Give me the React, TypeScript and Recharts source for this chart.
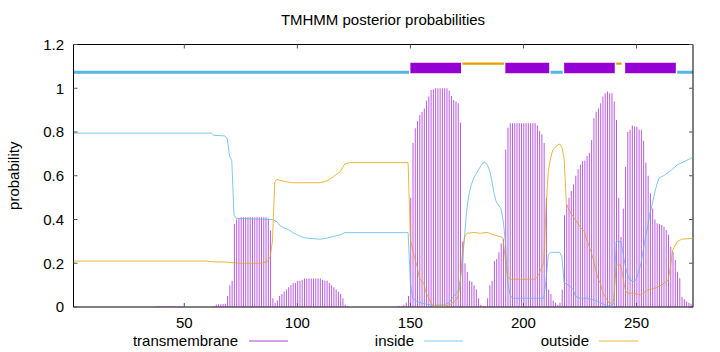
import React from 'react';
import { ComposedChart, Bar, Line, XAxis, YAxis, ReferenceArea } from 'recharts';

// ---------- data ----------
const residueCount = 275;
const residues: number[] = Array.from({ length: residueCount }, (_, i) => i + 1);

// transmembrane posterior probability per residue (1..275)
const tmProb: number[] = [
  0, 0, 0, 0, 0, 0, 0, 0, 0, 0,
  0, 0, 0, 0, 0, 0, 0, 0, 0, 0,
  0, 0, 0, 0, 0, 0, 0, 0, 0, 0,
  0, 0, 0, 0, 0, 0, 0.003, 0.003, 0.003, 0.003,
  0.003, 0.003, 0.003, 0.003, 0.003, 0.003, 0.003, 0.003, 0.003, 0,
  0, 0, 0, 0, 0, 0, 0, 0, 0, 0,
  0, 0, 0.005, 0.012, 0.013, 0.013, 0.014, 0.015, 0.05, 0.10,
  0.12, 0.38, 0.40, 0.405, 0.41, 0.41, 0.41, 0.41, 0.41, 0.41,
  0.41, 0.41, 0.41, 0.41, 0.41, 0.41, 0.405, 0.35, 0.04, 0.02,
  0.03, 0.05, 0.06, 0.07, 0.08, 0.09, 0.10, 0.11, 0.11, 0.12,
  0.12, 0.125, 0.13, 0.13, 0.13, 0.13, 0.13, 0.13, 0.13, 0.13,
  0.125, 0.12, 0.12, 0.11, 0.10, 0.09, 0.08, 0.07, 0.06, 0.04,
  0.01, 0.005, 0, 0, 0, 0, 0, 0, 0, 0,
  0, 0, 0, 0, 0, 0, 0, 0, 0, 0,
  0, 0, 0, 0.003, 0.005, 0.005, 0.01, 0.02, 0.05, 0.5,
  0.75, 0.817, 0.85, 0.878, 0.893, 0.908, 0.943, 0.962, 0.992, 0.995,
  1, 1, 1, 1, 1, 1, 0.989, 0.965, 0.946, 0.939,
  0.931, 0.843, 0.3, 0.2, 0.16, 0.12, 0.115, 0.10, 0.08, 0.04,
  0.01, 0.003, 0.002, 0.04, 0.10, 0.12, 0.21, 0.22, 0.25, 0.29,
  0.31, 0.72, 0.82, 0.84, 0.84, 0.84, 0.84, 0.84, 0.84, 0.84,
  0.84, 0.84, 0.84, 0.84, 0.84, 0.83, 0.806, 0.79, 0.75, 0.5,
  0.08, 0.06, 0.03, 0.02, 0.01, 0.02, 0.08, 0.42, 0.47, 0.5,
  0.53, 0.56, 0.6, 0.63, 0.65, 0.668, 0.67, 0.69, 0.705, 0.764,
  0.863, 0.893, 0.908, 0.931, 0.962, 0.977, 0.985, 0.977, 0.977, 0.939,
  0.855, 0.5, 0.32, 0.45, 0.64, 0.80, 0.81, 0.83, 0.825, 0.825,
  0.81, 0.81, 0.76, 0.66, 0.6, 0.52, 0.45, 0.40, 0.383, 0.38,
  0.375, 0.367, 0.352, 0.33, 0.276, 0.253, 0.215, 0.161, 0.131, 0.047,
  0.035, 0.025, 0.02, 0.015, 0.01,
];

// inside probability, [residue, value]
const insideProb: [number, number][] = [
  [1, 0.795], [62, 0.795], [63, 0.785], [68, 0.782], [69, 0.77], [70, 0.69], [71, 0.67],
  [72, 0.42], [73, 0.405], [88, 0.40], [89, 0.40], [90, 0.395], [91, 0.39], [92, 0.375],
  [94, 0.362], [96, 0.355], [98, 0.34], [100, 0.33], [102, 0.32], [104, 0.315], [110, 0.31],
  [113, 0.315], [116, 0.322], [119, 0.33], [121, 0.34], [149, 0.34], [150, 0.11], [151, 0.04],
  [153, 0.025], [156, 0.015], [160, 0.008], [165, 0.01], [167, 0.02], [169, 0.047], [171, 0.07],
  [172, 0.12], [173, 0.2], [174, 0.33], [175, 0.45], [176, 0.52], [177, 0.56], [178, 0.59],
  [180, 0.625], [182, 0.658], [183, 0.662], [184, 0.65], [185, 0.626], [186, 0.58], [187, 0.52],
  [188, 0.48], [189, 0.465], [190, 0.45], [191, 0.4], [192, 0.3], [193, 0.12], [194, 0.06],
  [195, 0.04], [209, 0.04], [210, 0.12], [211, 0.24], [212, 0.25], [216, 0.25], [217, 0.23],
  [218, 0.11], [220, 0.1], [222, 0.08], [223, 0.05], [225, 0.04], [228, 0.04], [232, 0.03],
  [236, 0.01], [238, 0.005], [240, 0.015], [241, 0.3], [243, 0.3], [244, 0.25], [245, 0.19],
  [246, 0.15], [247, 0.125], [249, 0.115], [250, 0.13], [251, 0.16], [252, 0.2], [253, 0.26],
  [254, 0.32], [255, 0.37], [256, 0.43], [257, 0.47], [258, 0.52], [259, 0.56], [260, 0.59],
  [262, 0.6], [264, 0.615], [266, 0.63], [268, 0.65], [271, 0.664], [274, 0.68], [275, 0.685],
];

// outside probability, [residue, value]
const outsideProb: [number, number][] = [
  [1, 0.21], [60, 0.21], [62, 0.207], [69, 0.205], [72, 0.202], [75, 0.2], [84, 0.2],
  [86, 0.205], [87, 0.212], [88, 0.23], [89, 0.3], [90, 0.57], [91, 0.584], [92, 0.58],
  [95, 0.573], [98, 0.568], [110, 0.568], [113, 0.576], [116, 0.596], [119, 0.619], [121, 0.654],
  [123, 0.66], [149, 0.66], [150, 0.31], [151, 0.26], [153, 0.184], [154, 0.131], [156, 0.108],
  [157, 0.063], [159, 0.024], [160, 0.005], [166, 0.005], [168, 0.014], [170, 0.03], [171, 0.047],
  [172, 0.1], [173, 0.25], [174, 0.32], [175, 0.337], [178, 0.341], [181, 0.337], [184, 0.341],
  [187, 0.329], [190, 0.321], [191, 0.314], [192, 0.215], [193, 0.139], [194, 0.127], [205, 0.127],
  [206, 0.136], [207, 0.154], [208, 0.18], [209, 0.2], [210, 0.45], [211, 0.62], [212, 0.68],
  [213, 0.718], [215, 0.74], [216, 0.745], [217, 0.73], [218, 0.68], [219, 0.47], [221, 0.428],
  [223, 0.398], [225, 0.367], [227, 0.344], [228, 0.306], [229, 0.28], [230, 0.25], [231, 0.215],
  [232, 0.17], [233, 0.13], [234, 0.108], [235, 0.07], [236, 0.05], [237, 0.032], [238, 0.017],
  [239, 0.02], [240, 0.03], [241, 0.192], [243, 0.192], [244, 0.139], [245, 0.078], [246, 0.063],
  [249, 0.063], [252, 0.055], [253, 0.063], [255, 0.078], [258, 0.085], [261, 0.1], [264, 0.123],
  [265, 0.184], [266, 0.26], [268, 0.299], [270, 0.31], [275, 0.314],
];

// predicted topology segments [start, end]
const tmSegments: [number, number][] = [[150, 172], [192, 211], [218, 240], [245, 267]];
const insideSegments: [number, number][] = [[1, 149], [212, 217], [268, 275]];
const outsideSegments: [number, number][] = [[173, 191], [241, 243]];

const xTicks = [50, 100, 150, 200, 250];
const yTicks = [0, 0.2, 0.4, 0.6, 0.8, 1, 1.2];

const titleText = 'TMHMM posterior probabilities';
const yLabelText = 'probability';
const legendNames = ['transmembrane', 'inside', 'outside'];

// ---------- styling / layout ----------
const FONT = '"Liberation Sans", Arial, sans-serif';
const FS = 15;
const C_TM = '#9400D3';
const C_IN = '#56B4E9';
const C_OUT = '#E69F00';
const W = 720;
const H = 352;
const PLOT_LEFT = 73.5;
const PLOT_TOP = 44.5;
const PLOT_RIGHT = 693;
const PLOT_BOTTOM = 307;

const table = residues.map((r, i) => ({ pos: r, tm: tmProb[i] }));
const insideData = insideProb.map(([pos, v]) => ({ pos, inside: v }));
const outsideData = outsideProb.map(([pos, v]) => ({ pos, outside: v }));

const YTick = (props: any) => {
  const { y, payload } = props;
  return (
    <g>
      <line x1={PLOT_LEFT} x2={PLOT_LEFT + 4} y1={y} y2={y} stroke="#555" strokeWidth={1} />
      <line x1={PLOT_RIGHT - 4} x2={PLOT_RIGHT} y1={y} y2={y} stroke="#555" strokeWidth={1} />
      <text x={PLOT_LEFT - 9.5} y={y} dy="0.36em" textAnchor="end" fontFamily={FONT} fontSize={FS} fill="#000">
        {String(payload.value)}
      </text>
    </g>
  );
};

const XTick = (props: any) => {
  const { x, payload } = props;
  return (
    <g>
      <line x1={x} x2={x} y1={PLOT_BOTTOM} y2={PLOT_BOTTOM - 4} stroke="#555" strokeWidth={1} />
      <line x1={x} x2={x} y1={PLOT_TOP} y2={PLOT_TOP + 4} stroke="#555" strokeWidth={1} />
      <text x={x} y={PLOT_BOTTOM + 20.5} textAnchor="middle" fontFamily={FONT} fontSize={FS} fill="#000">
        {String(payload.value)}
      </text>
    </g>
  );
};

const legendLayout = [
  { textEnd: 238, x1: 249, x2: 288, color: C_TM },
  { textEnd: 414, x1: 424, x2: 463, color: C_IN },
  { textEnd: 589, x1: 599, x2: 638, color: C_OUT },
];

export default function App() {
  return (
    <div style={{ position: 'absolute', left: 0, top: 0, width: W, height: H, background: '#fff' }}>
      <ComposedChart
        width={W}
        height={H}
        data={table}
        margin={{ top: PLOT_TOP, right: W - PLOT_RIGHT, bottom: 15, left: PLOT_LEFT - 60 }}
      >
        <XAxis
          dataKey="pos"
          type="number"
          domain={[1, residueCount]}
          allowDataOverflow
          ticks={xTicks}
          tick={<XTick />}
          tickLine={false}
          axisLine={false}
          height={H - PLOT_BOTTOM - 15}
          interval={0}
        />
        <YAxis
          type="number"
          domain={[0, 1.2]}
          allowDataOverflow
          ticks={yTicks}
          tick={<YTick />}
          tickLine={false}
          axisLine={false}
          width={60}
          interval={0}
        />
        <Bar dataKey="tm" barSize={1} fill={C_TM} fillOpacity={0.65} isAnimationActive={false} />
        <Line
          data={insideData}
          dataKey="inside"
          type="linear"
          stroke={C_IN}
          strokeOpacity={0.75}
          strokeWidth={1}
          dot={false}
          activeDot={false}
          isAnimationActive={false}
        />
        <Line
          data={outsideData}
          dataKey="outside"
          type="linear"
          stroke={C_OUT}
          strokeOpacity={0.75}
          strokeWidth={1}
          dot={false}
          activeDot={false}
          isAnimationActive={false}
        />
        {insideSegments.map(([s, e], i) => (
          <ReferenceArea key={'in' + i} x1={s} x2={e + 0.4} y1={1.066} y2={1.08} fill={C_IN} fillOpacity={1} stroke="none" ifOverflow="hidden" />
        ))}
        {outsideSegments.map(([s, e], i) => (
          <ReferenceArea key={'out' + i} x1={s} x2={e + 0.4} y1={1.107} y2={1.118} fill={C_OUT} fillOpacity={1} stroke="none" ifOverflow="hidden" />
        ))}
        {tmSegments.map(([s, e], i) => (
          <ReferenceArea key={'tm' + i} x1={s} x2={e + 0.4} y1={1.069} y2={1.117} fill={C_TM} fillOpacity={1} stroke="none" ifOverflow="hidden" />
        ))}
        <ReferenceArea x1={1} x2={residueCount} y1={0} y2={1.2} fill="none" stroke="#000" strokeWidth={1} fillOpacity={0} ifOverflow="visible" />
      </ComposedChart>
      <svg
        width={W}
        height={H}
        style={{ position: 'absolute', left: 0, top: 0, pointerEvents: 'none' }}
      >
        <text x={383} y={25} textAnchor="middle" fontFamily={FONT} fontSize={FS} fill="#000">
          {titleText}
        </text>
        <text
          x={0}
          y={0}
          transform={`translate(19, ${(PLOT_TOP + PLOT_BOTTOM) / 2}) rotate(-90)`}
          textAnchor="middle"
          fontFamily={FONT}
          fontSize={FS}
          fill="#000"
        >
          {yLabelText}
        </text>
        {legendLayout.map((l, i) => (
          <g key={i}>
            <text x={l.textEnd} y={346} textAnchor="end" fontFamily={FONT} fontSize={FS} fill="#000">
              {legendNames[i]}
            </text>
            <line x1={l.x1} x2={l.x2} y1={341} y2={341} stroke={l.color} strokeOpacity={0.75} strokeWidth={1} />
          </g>
        ))}
      </svg>
    </div>
  );
}
